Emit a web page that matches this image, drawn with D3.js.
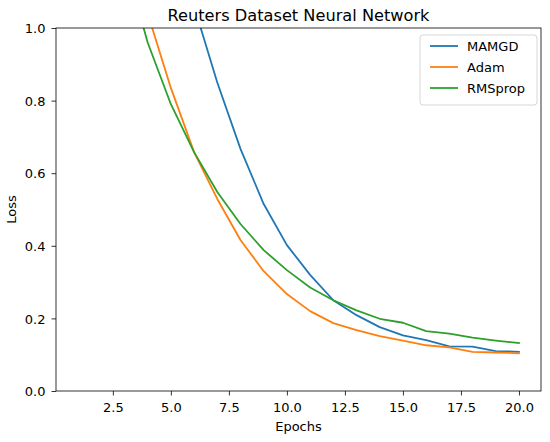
<!DOCTYPE html>
<html><head><meta charset="utf-8">
<script src="https://cdn.jsdelivr.net/npm/d3@7"></script>
<style>body{margin:0;background:#fff;} svg{display:block;font-family:"DejaVu Sans",sans-serif;}</style>
</head><body>
<svg id="c" width="550" height="442"></svg>
<script>
const epochs = [1,2,3,4,5,6,7,8,9,10,11,12,13,14,15,16,17,18,19,20];
const mamgd = [2.6,2.0,1.6,1.3,1.15,1.06,0.85,0.667,0.515,0.402,0.32,0.25,0.209,0.176,0.153,0.14,0.123,0.122,0.110,0.108];
const adam = [1.9,1.5,1.25,1.04,0.835,0.658,0.529,0.416,0.33,0.267,0.22,0.187,0.168,0.151,0.139,0.126,0.12,0.108,0.106,0.104];
const rmsprop = [1.7,1.4,1.19,0.96,0.79,0.658,0.548,0.46,0.388,0.333,0.285,0.25,0.222,0.199,0.188,0.165,0.158,0.147,0.139,0.132];
const seriesNames = ["MAMGD","Adam","RMSprop"];
const xTicks = [2.5,5.0,7.5,10.0,12.5,15.0,17.5,20.0];
const yTicks = [0.0,0.2,0.4,0.6,0.8,1.0];
const colors = ["#1f77b4","#ff7f0e","#2ca02c"];
const data = [mamgd, adam, rmsprop];

const L=56,R=541,T=28,B=391;
const svg=d3.select("#c");
const x=d3.scaleLinear().domain([0.05,20.95]).range([L,R]);
const y=d3.scaleLinear().domain([0,1]).range([B,T]);

svg.append("defs").append("clipPath").attr("id","clip").append("rect")
  .attr("x",L).attr("y",T).attr("width",R-L).attr("height",B-T);

const line=d3.line().x((d,i)=>x(epochs[i])).y(d=>y(d));
data.forEach((s,k)=>{
  svg.append("path").datum(s).attr("d",line).attr("fill","none")
    .attr("stroke",colors[k]).attr("stroke-width",1.8).attr("stroke-linejoin","round").attr("stroke-linecap","square")
    .attr("clip-path","url(#clip)");
});

const fs=13;
const xa=svg.append("g").attr("transform",`translate(0,${B})`)
  .call(d3.axisBottom(x).tickValues(xTicks).tickFormat(d3.format(".1f")).tickSize(4.5).tickPadding(7));
const ya=svg.append("g").attr("transform",`translate(${L},0)`)
  .call(d3.axisLeft(y).tickValues(yTicks).tickFormat(d3.format(".1f")).tickSize(4.5).tickPadding(6));
[xa,ya].forEach(a=>{
  a.select(".domain").remove();
  a.selectAll("line").attr("stroke","#000").attr("stroke-width",0.8);
  a.selectAll("text").attr("font-size",fs).attr("fill","#000").attr("font-family","DejaVu Sans");
});
ya.selectAll("text").attr("dy","0.36em");
svg.append("rect").attr("x",L).attr("y",T).attr("width",R-L).attr("height",B-T)
  .attr("fill","none").attr("stroke","#000").attr("stroke-width",0.8);

svg.append("text").attr("x",(L+R)/2).attr("y",20.5).attr("text-anchor","middle")
  .attr("font-size",16.2).text("Reuters Dataset Neural Network");
svg.append("text").attr("x",(L+R)/2).attr("y",431).attr("text-anchor","middle")
  .attr("font-size",fs).text("Epochs");
svg.append("text").attr("transform",`translate(16,${(T+B)/2}) rotate(-90)`).attr("text-anchor","middle")
  .attr("font-size",fs).text("Loss");

const lg=svg.append("g");
lg.append("rect").attr("x",420).attr("y",35).attr("width",117).attr("height",70).attr("rx",3)
  .attr("fill","#fff").attr("fill-opacity",0.8).attr("stroke","#ccc").attr("stroke-width",0.8);
seriesNames.forEach((n,k)=>{
  const yy=46+k*21;
  lg.append("line").attr("x1",430).attr("x2",458).attr("y1",yy).attr("y2",yy)
    .attr("stroke",colors[k]).attr("stroke-width",1.8);
  lg.append("text").attr("x",467).attr("y",yy+4.6).attr("font-size",fs).text(n);
});
</script>
</body></html>
